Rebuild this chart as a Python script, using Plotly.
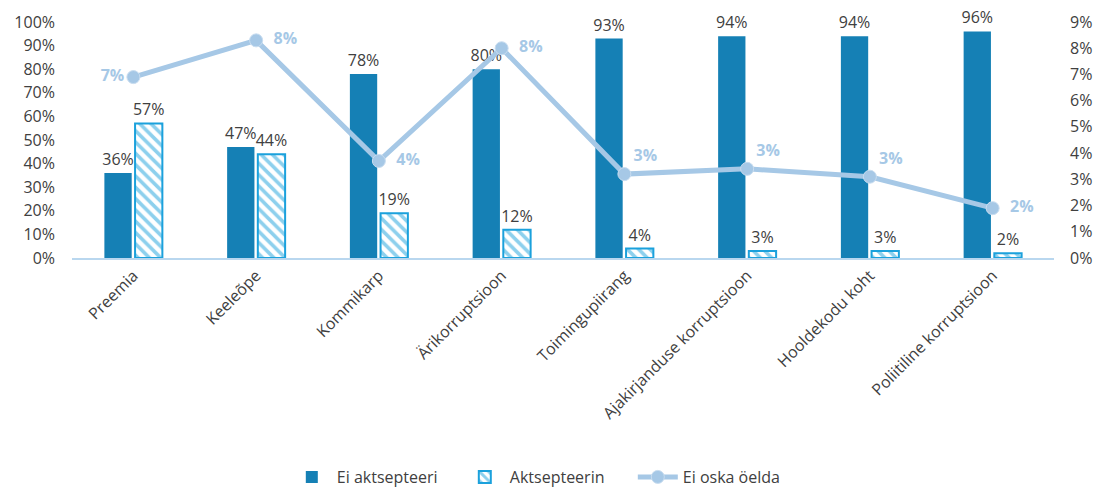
import plotly.graph_objects as go

categories = ["Preemia", "Keeleõpe", "Kommikarp", "Ärikorruptsioon", "Toimingupiirang",
              "Ajakirjanduse korruptsioon", "Hooldekodu koht", "Poliitiline korruptsioon"]
ei_aktsepteeri = [0.36, 0.47, 0.78, 0.80, 0.93, 0.94, 0.94, 0.96]
aktsepteerin = [0.57, 0.44, 0.19, 0.12, 0.04, 0.03, 0.03, 0.02]
ei_oska = [0.069, 0.083, 0.037, 0.080, 0.032, 0.034, 0.031, 0.019]
ei_oska_labels = ["7%", "8%", "4%", "8%", "3%", "3%", "3%", "2%"]
line_text_pos = ["middle left", "middle right", "middle right", "middle right",
                 "top right", "top right", "top right", "middle right"]

FONT = "Open Sans"
DARK = "#1580b5"
HATCH = "#1ba1dc"
LINE = "#a6c8e6"
TXT = "#404040"
NB = "\u00a0"

line_text = [(NB * 2 + t) if p == "middle right" else t
             for t, p in zip(ei_oska_labels, line_text_pos)]

fig = go.Figure()
fig.add_trace(go.Bar(
    x=categories, y=ei_aktsepteeri, name="Ei aktsepteeri",
    marker=dict(color=DARK, line=dict(width=0)),
    text=[f"{round(v*100)}%" for v in ei_aktsepteeri], textposition="outside",
    constraintext="none",
    textfont=dict(color=TXT, size=16, family=FONT), cliponaxis=False,
))
fig.add_trace(go.Bar(
    x=categories, y=aktsepteerin, name="Aktsepteerin",
    marker=dict(color="white", line=dict(color=HATCH, width=2),
                pattern=dict(shape="\\", fgcolor=HATCH, bgcolor="white", size=8, solidity=0.45)),
    text=[f"{round(v*100)}%" for v in aktsepteerin], textposition="outside",
    constraintext="none",
    textfont=dict(color=TXT, size=16, family=FONT), cliponaxis=False,
))
fig.add_trace(go.Scatter(
    x=categories, y=ei_oska, name="Ei oska öelda", yaxis="y2",
    mode="lines+markers+text",
    line=dict(color=LINE, width=5),
    marker=dict(color=LINE, size=13, line=dict(color="#c9ddf0", width=1)),
    text=line_text, textposition=line_text_pos,
    textfont=dict(color=LINE, size=16, family=FONT, weight="bold"),
    cliponaxis=False,
))

# page body has an 8px margin: compensate so the plot lands where the reference has it
fig.update_layout(
    width=1096, height=479,
    margin=dict(l=64, r=50, t=14, b=229, autoexpand=False),
    paper_bgcolor="white", plot_bgcolor="white",
    font=dict(family=FONT, size=16, color=TXT),
    barmode="group", bargap=0.5, bargroupgap=0.11,
    showlegend=True,
    legend=dict(orientation="h", x=0.483, xanchor="center", y=-0.928, yanchor="middle",
                font=dict(size=16, color=TXT, family=FONT), itemwidth=40,
                entrywidth=118, traceorder="normal"),
    xaxis=dict(tickangle=-45, showline=True, linecolor="#b9d7ef", linewidth=2,
               showgrid=False, ticks="", tickfont=dict(size=16, color=TXT), automargin=False),
    yaxis=dict(range=[0, 1.0], tickvals=[i/10 for i in range(11)],
               ticktext=[f"{i*10}%" for i in range(11)], showgrid=False, zeroline=False,
               tickfont=dict(size=16, color=TXT), ticklabelstandoff=16, automargin=False),
    yaxis2=dict(range=[0, 0.09], overlaying="y", side="right",
                tickvals=[i/100 for i in range(10)], ticktext=[f"{i}%" for i in range(10)],
                showgrid=False, zeroline=False, tickfont=dict(size=16, color=TXT),
                ticklabelstandoff=15, automargin=False),
)

fig.write_html("out.html")
